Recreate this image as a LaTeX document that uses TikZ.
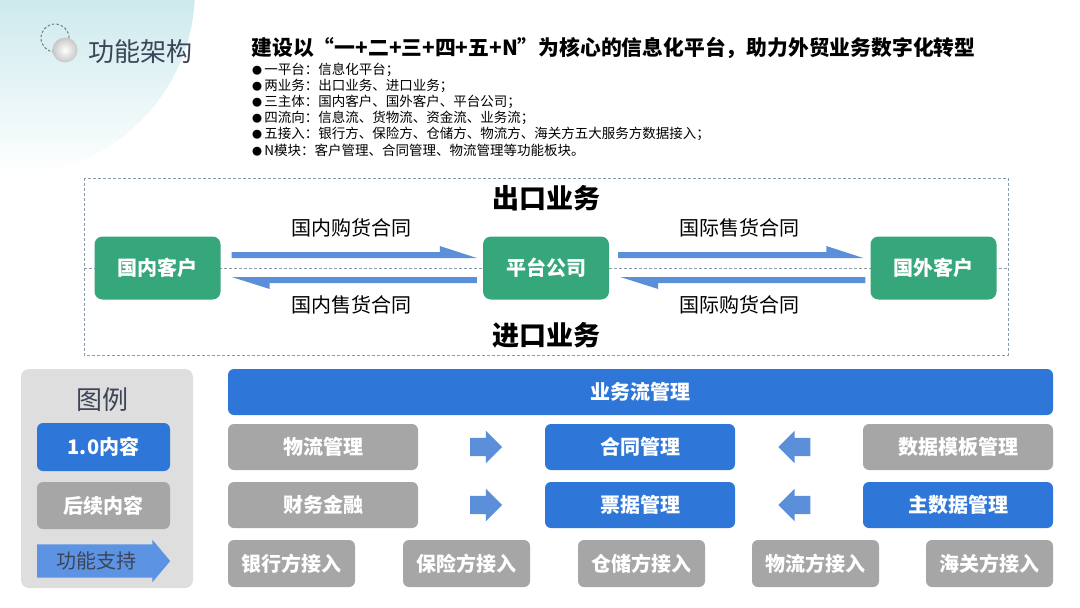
\documentclass[tikz,border=0pt]{standalone}
\usepackage{fontspec}
\setmainfont{Noto Sans CJK SC}
\usetikzlibrary{shapes.arrows, positioning, calc}

\definecolor{tealbg}{HTML}{96D2DA}
\definecolor{framec}{HTML}{8A9BAB}
\definecolor{grn}{HTML}{36A67B}
\definecolor{flowblue}{HTML}{5B8FDA}
\definecolor{boxblue}{HTML}{2E76D8}
\definecolor{boxgray}{HTML}{A6A6A6}
\definecolor{legbg}{HTML}{DEDEDE}
\definecolor{legarrow}{HTML}{5C93E2}
\definecolor{inkdark}{HTML}{3D4558}

\begin{document}
\begin{tikzpicture}[x=1pt, y=-1pt,
  party/.style={fill=grn, rounded corners=8pt, minimum width=126pt, minimum height=63pt, text=white, font=\fontsize{20}{24}\selectfont\bfseries},
  lbl/.style={font=\fontsize{20}{24}\selectfont},
  head/.style={font=\fontsize{27}{30}\selectfont\bfseries},
  frame/.style={draw=framec, line width=0.8pt, dash pattern=on 3pt off 2pt},
  bluebox/.style={fill=boxblue, rounded corners=6pt, text=white, minimum height=46pt, font=\fontsize{20}{24}\selectfont\bfseries},
  graybox/.style={bluebox, fill=boxgray},
  pt/.style={anchor=west, inner sep=0pt, font=\fontsize{13.5}{16}\selectfont},
  blk/.style={single arrow, fill=flowblue, inner sep=0pt, text height=9pt, text depth=9pt, text width=0pt, minimum height=32pt, single arrow head extend=7pt},
  harpR/.style={fill=flowblue, to path={let \p1=(\tikztostart), \p2=(\tikztotarget) in
    (\x1,\y1+3pt) -- (\x2-37pt,\y1+3pt) -- (\x2-37pt,\y1+9pt) -- (\x2,\y1-3pt) -- (\x1,\y1-3pt) -- cycle}},
  harpL/.style={fill=flowblue, to path={let \p1=(\tikztostart), \p2=(\tikztotarget) in
    (\x1,\y1+3pt) -- (\x2,\y1+3pt) -- (\x2+38pt,\y1-9pt) -- (\x2+38pt,\y1-3pt) -- (\x1,\y1-3pt) -- cycle}}]
\useasboundingbox (0,0) rectangle (1080,608);

% header
\shade[top color=tealbg, middle color=tealbg!80!white, bottom color=white] (10,-10) circle (185pt);
\draw[draw=framec!80!black, line width=1pt, dash pattern=on 2.5pt off 2pt] (55,38) circle (14pt);
\shade[inner color=white, outer color=black!22] (65,50) circle (12.5pt);
\node[anchor=west, text=inkdark, font=\fontsize{26}{30}\selectfont] (sec) at (85,52) {功能架构};
\node[anchor=west, font=\fontsize{20.8}{24}\selectfont\bfseries] (ttl) at (248,48) {建设以“一+二+三+四+五+N”为核心的信息化平台，助力外贸业务数字化转型};
\node[pt] (b1) at (252,70) {{\fontsize{10}{10}\selectfont●}\,一平台：信息化平台；};
\node[pt] (b2) at (252,86) {{\fontsize{10}{10}\selectfont●}\,两业务：出口业务、进口业务；};
\node[pt] (b3) at (252,102) {{\fontsize{10}{10}\selectfont●}\,三主体：国内客户、国外客户、平台公司；};
\node[pt] (b4) at (252,118) {{\fontsize{10}{10}\selectfont●}\,四流向：信息流、货物流、资金流、业务流；};
\node[pt] (b5) at (252,134) {{\fontsize{10}{10}\selectfont●}\,五接入：银行方、保险方、仓储方、物流方、海关方五大服务方数据接入；};
\node[pt] (b6) at (252,150) {{\fontsize{10}{10}\selectfont●}\,N模块：客户管理、合同管理、物流管理等功能板块。};

% trade flows
\draw[frame] (84,178) rectangle (1008,355);
\draw[frame] (84,268) -- (1008,268);
\node[head] (exp) at (546,198) {出口业务};
\node[head] (imp) at (546,335) {进口业务};
\node[party] (dom) at (157.5,268) {国内客户};
\node[party] (plat) at (546,268) {平台公司};
\node[party] (forn) at (933.5,268) {国外客户};
\path[harpR] ($(dom.east)+(11,-13)$) to ($(plat.west)+(-6,-13)$);
\path[harpL] ($(plat.west)+(-6,12)$) to ($(dom.east)+(11,12)$);
\path[harpR] ($(plat.east)+(9,-13)$) to ($(forn.west)+(-7,-13)$);
\path[harpL] ($(forn.west)+(-5,12)$) to ($(plat.east)+(11,12)$);
\node[lbl] (c1) at ($(dom.east)!0.5!(plat.west)+(0,-40)$) {国内购货合同};
\node[lbl] (c2) at ($(dom.east)!0.5!(plat.west)+(0,37)$) {国内售货合同};
\node[lbl] (c3) at ($(plat.east)!0.5!(forn.west)+(0,-40)$) {国际售货合同};
\node[lbl] (c4) at ($(plat.east)!0.5!(forn.west)+(0,37)$) {国际购货合同};

% legend
\fill[legbg, rounded corners=8pt] (21,369) rectangle (193,588);
\node[text=inkdark, font=\fontsize{26}{30}\selectfont] (leg) at (102,400) {图例};
\node[bluebox, minimum width=133pt, minimum height=48pt] (lv1) at (103.5,447) {1.0内容};
\node[graybox, minimum width=133pt, minimum height=47pt] (lv2) at (103.5,505.5) {后续内容};
\node[single arrow, fill=legarrow, inner sep=0pt, text height=23.5pt, text depth=9.5pt, minimum height=133pt, single arrow head extend=4.5pt, single arrow tip angle=100, text=inkdark, font=\fontsize{20}{24}\selectfont, anchor=tail] (sup) at (37,561) {功能支持};

% modules
\node[bluebox, minimum width=825pt] (flow) at (640.5,392) {业务流管理};
\node[graybox, minimum width=190pt] (wl) at (323,447) {物流管理};
\node[bluebox, minimum width=190pt] (ht) at (640,447) {合同管理};
\node[graybox, minimum width=190pt] (mb) at (958,447) {数据模板管理};
\node[graybox, minimum width=190pt] (cw) at (323,505) {财务金融};
\node[bluebox, minimum width=190pt] (pj) at (640,505) {票据管理};
\node[bluebox, minimum width=190pt] (zsj) at (958,505) {主数据管理};
\node[blk] (a1) at ($(wl.east)!0.5!(ht.west)$) {};
\node[blk] (a2) at ($(cw.east)!0.5!(pj.west)$) {};
\node[blk, shape border rotate=180] (a3) at ($(ht.east)!0.5!(mb.west)$) {};
\node[blk, shape border rotate=180] (a4) at ($(pj.east)!0.5!(zsj.west)$) {};
\node[graybox, minimum width=127pt, minimum height=47pt] (yh) at (291.5,563.5) {银行方接入};
\node[graybox, minimum width=127pt, minimum height=47pt] (bx) at (466.5,563.5) {保险方接入};
\node[graybox, minimum width=127pt, minimum height=47pt] (cc) at (641.5,563.5) {仓储方接入};
\node[graybox, minimum width=127pt, minimum height=47pt] (wlj) at (815.5,563.5) {物流方接入};
\node[graybox, minimum width=127pt, minimum height=47pt] (hg) at (989.5,563.5) {海关方接入};
\end{tikzpicture}
\end{document}
